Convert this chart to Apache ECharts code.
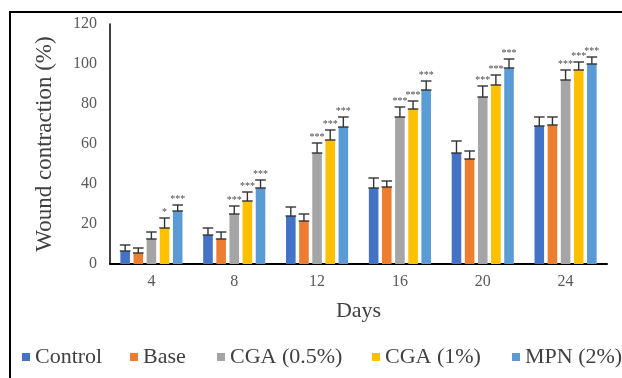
<!DOCTYPE html>
<html>
<head>
<meta charset="utf-8">
<script src="https://cdn.jsdelivr.net/npm/echarts@6/dist/echarts.min.js"></script>
<style>
html,body{margin:0;padding:0;background:#fff;}
#chart{width:622px;height:378px;}
</style>
</head>
<body>
<div id="chart"></div>
<script>
const days = ['4', '8', '12', '16', '20', '24'];
const seriesNames = ['Control', 'Base', 'CGA (0.5%)', 'CGA (1%)', 'MPN (2%)'];
const control = [6.5, 14.5, 24, 38, 55.5, 69];
const base = [5.5, 12.5, 21.5, 38.5, 52.5, 69.5];
const cga05 = [12.5, 25, 55.5, 73.5, 83.5, 92];
const cga1 = [18, 31.5, 62, 77.5, 89.5, 97];
const mpn = [26.5, 38, 68.5, 87, 98, 100];
const controlErr = [3, 3.5, 4.5, 5, 6, 4.5];
const baseErr = [2.5, 3.5, 3.5, 3, 4, 4];
const cga05Err = [3.5, 4, 5, 5, 5.5, 5];
const cga1Err = [5, 4.5, 5, 4, 5, 4];
const mpnErr = [3, 4, 5, 4.5, 4.5, 3.5];
const controlSig = ['', '', '', '', '', ''];
const baseSig = ['', '', '', '', '', ''];
const cga05Sig = ['', '***', '***', '***', '***', '***'];
const cga1Sig = ['*', '***', '***', '***', '***', '***'];
const mpnSig = ['***', '***', '***', '***', '***', '***'];
const yTicks = [0, 20, 40, 60, 80, 100, 120];

const values = [control, base, cga05, cga1, mpn];
const errs = [controlErr, baseErr, cga05Err, cga1Err, mpnErr];
const sigs = [controlSig, baseSig, cga05Sig, cga1Sig, mpnSig];
const colors = ['#4472C4', '#ED7D31', '#A5A5A5', '#FFC000', '#5B9BD5'];

const CAT_GAP = 0.25, BAR_GAP = 0.37, N = 5;
const serif = 'Liberation Serif, Times New Roman, serif';

function barGeom(i, band) {
  const rem = band * (1 - CAT_GAP);
  const bw = rem / (N + (N - 1) * BAR_GAP);
  const total = N * bw + (N - 1) * bw * BAR_GAP;
  return { bw: bw, c: -total / 2 + i * bw * (1 + BAR_GAP) + bw / 2 };
}

const series = [];
values.forEach((vals, i) => {
  series.push({
    name: seriesNames[i], type: 'bar', data: vals,
    itemStyle: { color: colors[i] },
    barGap: (BAR_GAP * 100) + '%', barCategoryGap: (CAT_GAP * 100) + '%',
    emphasis: { disabled: true }, animation: false
  });
});
values.forEach((vals, i) => {
  series.push({
    type: 'custom', silent: true, animation: false, z: 5,
    data: vals.map((v, k) => [k, v, errs[i][k]]),
    renderItem: function (params, api) {
      const k = api.value(0), v = api.value(1), e = api.value(2);
      const band = api.size([1, 0])[0];
      const g = barGeom(i, band);
      const cx = api.coord([k, 0])[0] + g.c;
      const yTop = api.coord([k, v + e])[1];
      const yBar = api.coord([k, v])[1];
      const hw = g.bw / 2 + 0.5;
      const st = { stroke: '#333', lineWidth: 1.4 };
      const ch = [
        { type: 'line', shape: { x1: cx, y1: yTop, x2: cx, y2: yBar }, style: st },
        { type: 'line', shape: { x1: cx - hw, y1: yTop, x2: cx + hw, y2: yTop }, style: st },
        { type: 'line', shape: { x1: cx - hw, y1: yBar, x2: cx + hw, y2: yBar }, style: st }
      ];
      const s = sigs[i][params.dataIndex];
      if (s) {
        ch.push({ type: 'text', style: { text: s, x: cx, y: yTop - 1, align: 'center', verticalAlign: 'bottom',
          font: '10px ' + serif, fill: '#4a4a4a' } });
      }
      return { type: 'group', children: ch };
    }
  });
});

const legendLefts = [17, 125, 212, 367, 507];
const legends = seriesNames.map((n, i) => ({
  data: [n], left: legendLefts[i], top: 341, icon: 'rect', itemWidth: 8, itemHeight: 8, itemGap: 4,
  textStyle: { fontFamily: serif, fontSize: 22, color: '#404040' }, selectedMode: false
}));

const chart = echarts.init(document.getElementById('chart'), null, { renderer: 'canvas' });
chart.setOption({
  animation: false,
  backgroundColor: '#fff',
  grid: { left: 110, right: 15, top: 24, bottom: 114, containLabel: false },
  legend: legends,
  graphic: [{ type: 'rect', shape: { x: 10, y: 12, width: 640, height: 400 }, style: { fill: 'none', stroke: '#000', lineWidth: 2 }, silent: true }],
  xAxis: {
    type: 'category', data: days,
    name: 'Days', nameLocation: 'middle', nameGap: 36,
    nameTextStyle: { fontFamily: serif, fontSize: 22, color: '#404040' },
    axisLine: { lineStyle: { color: '#000', width: 2 } },
    axisTick: { show: false },
    axisLabel: { fontFamily: serif, fontSize: 16, color: '#595959', margin: 10 }
  },
  yAxis: {
    type: 'value', min: yTicks[0], max: yTicks[yTicks.length - 1], interval: yTicks[1] - yTicks[0],
    name: 'Wound contraction (%)', nameLocation: 'middle', nameGap: 54, nameRotate: 90,
    nameTextStyle: { fontFamily: serif, fontSize: 23, color: '#404040' },
    axisLine: { show: true, lineStyle: { color: '#000', width: 1.5 } },
    axisTick: { show: false },
    splitLine: { show: false },
    axisLabel: { fontFamily: serif, fontSize: 16, color: '#595959', margin: 13 }
  },
  series: series
});
</script>
</body>
</html>
